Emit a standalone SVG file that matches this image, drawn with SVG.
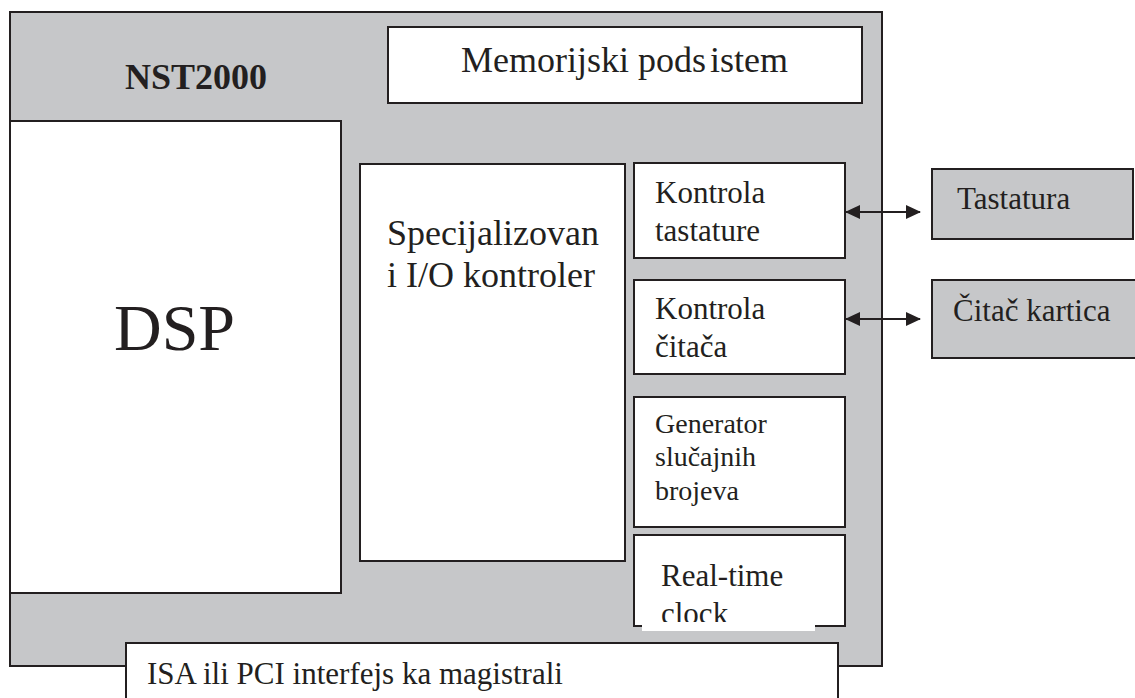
<svg xmlns="http://www.w3.org/2000/svg" width="1135" height="698" viewBox="0 0 1135 698">
<style>
.g{fill:#c6c7c9;stroke:#231f20;stroke-width:2}
.w{fill:#ffffff;stroke:#231f20;stroke-width:2}
text{font-family:"Liberation Serif","Times New Roman",serif;fill:#231f20}
.ln{stroke:#231f20;stroke-width:2;fill:none}
</style>
<defs>
<marker id="ah" viewBox="0 0 15 14" refX="14" refY="7" markerWidth="15" markerHeight="14" markerUnits="userSpaceOnUse" orient="auto-start-reverse">
<path d="M0,0 L15,7 L0,14 Z" fill="#231f20"/>
</marker>
</defs>
<rect width="1135" height="698" fill="#ffffff"/>
<g id="nst2000">
<rect class="g" x="10" y="12" width="872" height="654"/>
<text x="125" y="89" font-size="36" font-weight="bold">NST2000</text>
</g>
<g id="memorija">
<rect class="w" x="388" y="27" width="474" height="76"/>
<text x="461" y="72" font-size="36">Memorijski pods<tspan dx="4">istem</tspan></text>
</g>
<g id="dsp">
<rect class="w" x="10" y="121" width="331" height="472"/>
<text x="114" y="350" font-size="66">DSP</text>
</g>
<g id="io">
<rect class="w" x="360" y="164" width="265" height="397"/>
<text x="387" y="245" font-size="36">Specijalizovan</text>
<text x="387" y="287" font-size="36">i I/O kontroler</text>
</g>
<g id="kontrola-tastature">
<rect class="w" x="634" y="163" width="211" height="95"/>
<text x="655" y="203" font-size="31">Kontrola</text>
<text x="655" y="241" font-size="31">tastature</text>
</g>
<g id="kontrola-citaca">
<rect class="w" x="634" y="280" width="211" height="94"/>
<text x="655" y="319" font-size="31">Kontrola</text>
<text x="655" y="357" font-size="31">čitača</text>
</g>
<g id="generator">
<rect class="w" x="634" y="397" width="211" height="130"/>
<text x="655" y="433" font-size="28">Generator</text>
<text x="655" y="466" font-size="28">slučajnih</text>
<text x="655" y="500" font-size="28">brojeva</text>
</g>
<g id="rtc">
<rect class="w" x="634" y="535" width="211" height="91"/>
<text x="661" y="586" font-size="31">Real-time</text>
<text x="661" y="624" font-size="31">clock</text>
<rect x="642" y="622" width="173" height="9" fill="#ffffff"/>
</g>
<g id="isa">
<rect class="w" x="126" y="643" width="712" height="70"/>
<text x="147" y="684" font-size="31">ISA ili PCI interfejs ka magistrali</text>
</g>
<g id="tastatura">
<rect class="g" x="932" y="169" width="201" height="70"/>
<text x="957" y="209" font-size="31">Tastatura</text>
</g>
<g id="citac">
<rect class="g" x="932" y="280" width="210" height="78"/>
<text x="953" y="321" font-size="31">Čitač kartica</text>
</g>
<g id="connectors">
<line class="ln" x1="846" y1="212" x2="920" y2="212" marker-start="url(#ah)" marker-end="url(#ah)"/>
<line class="ln" x1="846" y1="319" x2="920" y2="319" marker-start="url(#ah)" marker-end="url(#ah)"/>
</g>
</svg>
